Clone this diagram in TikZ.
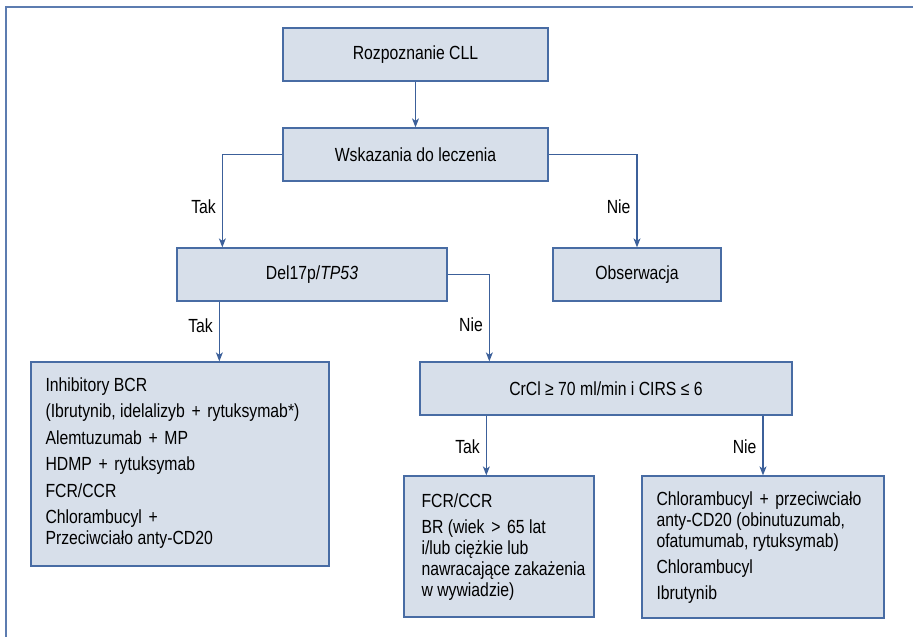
\documentclass[tikz,border=0pt]{standalone}
\usepackage{fontspec}
\setmainfont{Liberation Sans}[FakeStretch=0.83]
\usetikzlibrary{arrows.meta}
\definecolor{boxfill}{RGB}{215,223,234}
\definecolor{boxdraw}{RGB}{72,108,164}
\definecolor{linec}{RGB}{60,96,154}
\definecolor{framec}{RGB}{92,124,176}
\newcommand{\pls}{\hspace{0.35em}+\hspace{0.35em}}
\newcommand{\gtrsign}{\hspace{0.35em}>\hspace{0.35em}}
\tikzset{
  box/.style={draw=boxdraw, fill=boxfill, line width=1.3pt, inner sep=0pt, font=\fontsize{19}{21}\selectfont},
  txt/.style={inner sep=0pt, align=left, font=\fontsize{19}{21}\selectfont},
  conn/.style={draw=linec, line width=1.1pt, -{Stealth[length=9pt,width=7pt,inset=2.5pt]}},
  lbl/.style={inner sep=0pt, font=\fontsize{19}{21}\selectfont},
}
\begin{document}
\begin{tikzpicture}[x=1pt,y=-1pt]
\useasboundingbox (0,0) rectangle (913,637);
\draw[framec, line width=1.3pt] (6,637) -- (6,7) -- (913,7);

\node[box, minimum width=265pt, minimum height=53pt] (rozp) at (415.5,54.5) {Rozpoznanie CLL};
\node[box, minimum width=265pt, minimum height=53pt] (wsk) at (415.5,154.5) {Wskazania do leczenia};
\node[box, minimum width=270pt, minimum height=53pt] (del) at (312,274.5) {Del17p/\textit{TP53}};
\node[box, minimum width=168pt, minimum height=53pt] (obs) at (637,274.5) {Obserwacja};
\node[box, minimum width=372pt, minimum height=53pt] (crcl) at (606,388.5) {CrCl ≥ 70 ml/min i CIRS ≤ 6};
\node[box, minimum width=298pt, minimum height=204pt] (inh) at (180,464) {};
\node[box, minimum width=190pt, minimum height=141pt] (fcr) at (499,546.5) {};
\node[box, minimum width=242pt, minimum height=142pt] (chl) at (763,547) {};

\node[txt, anchor=north west] (inhT) at ([xshift=15pt,yshift=-16pt]inh.north west)
 {Inhibitory BCR\\[5.5pt]
  (Ibrutynib, idelalizyb\pls rytuksymab*)\\[5.5pt]
  Alemtuzumab\pls MP\\[5.5pt]
  HDMP\pls rytuksymab\\[5.5pt]
  FCR/CCR\\[5.5pt]
  Chlorambucyl\pls\\
  Przeciwciało anty-CD20};
\node[txt, anchor=north west] (fcrT) at ([xshift=18pt,yshift=-18pt]fcr.north west)
 {FCR/CCR\\[5pt]
  BR (wiek\gtrsign 65 lat\\
  i/lub ciężkie lub\\
  nawracające zakażenia\\
  w wywiadzie)};
\node[txt, anchor=north west] (chlT) at ([xshift=15pt,yshift=-16pt]chl.north west)
 {Chlorambucyl\pls przeciwciało\\
  anty-CD20 (obinutuzumab,\\
  ofatumumab, rytuksymab)\\[5pt]
  Chlorambucyl\\[5pt]
  Ibrutynib};

\draw[conn] (rozp.south) -- (wsk.north);
\draw[conn] (wsk.west) -| node[lbl, pos=0.78, left=6pt] (l1) {Tak} ([xshift=46pt]del.north west);
\draw[conn] (wsk.east) -| node[lbl, pos=0.78, left=6pt] (l2) {Nie} (obs.north);
\draw[conn] (del.east) -| node[lbl, pos=0.79, left=6pt] (l3) {Nie} ([xshift=70pt]crcl.north west);
\draw[conn] ([xshift=43pt]del.south west) -- node[lbl, pos=0.4, left=6pt] (l4) {Tak} ([xshift=43pt]del.south west |- inh.north);
\draw[conn] ([xshift=67pt]crcl.south west) -- node[lbl, pos=0.52, left=6pt] (l5) {Tak} ([xshift=67pt]crcl.south west |- fcr.north);
\draw[conn] (crcl.south -| chl.north) -- node[lbl, pos=0.52, left=6pt] (l6) {Nie} (chl.north);
\end{tikzpicture}
\end{document}
